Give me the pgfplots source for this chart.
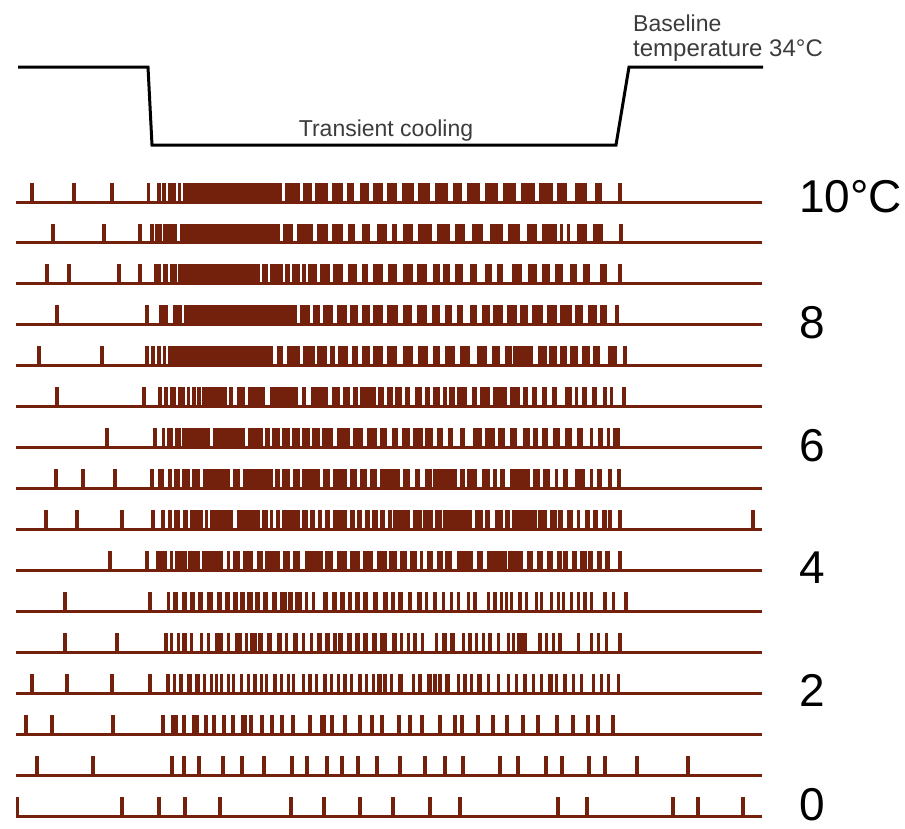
\documentclass[border=0pt]{standalone}
\usepackage{pgfplots}
\pgfplotsset{compat=1.18}
\usepackage{fontspec}
\setmainfont{Liberation Sans}
\definecolor{spkc}{RGB}{115,32,12}
\definecolor{txt}{RGB}{60,60,60}
\pgfplotsset{spk/.style={only marks, mark size=0pt, mark options={draw=none, fill=none},
  error bars/x dir=both, error bars/x explicit, error bars/error mark=none,
  error bars/error bar style={line width=19pt, draw=spkc, line cap=butt}}}
\newcommand{\spikerow}[2]{\addplot[spk] table[header=false, row sep=\\,
  x expr={(\thisrowno{0}+max(\thisrowno{0},\thisrowno{1}))/2},
  x error expr={max((max(\thisrowno{0},\thisrowno{1})-\thisrowno{0})/2+0.4,1.7)},
  y expr=#1-9.5] {#2};}
\begin{document}
\begin{tikzpicture}
\path[use as bounding box] (0,0) rectangle (905pt,828pt);
\begin{axis}[at={(0,0)}, anchor=south west, scale only axis, width=905pt, height=828pt,
  xmin=0, xmax=905, ymin=0, ymax=828, y dir=reverse, hide axis, clip=false]
% temperature trace
\addplot[black, line width=3pt, line join=miter] coordinates {(18,67)(148,67)(152,145)(616,145)(629,67)(763,67)};
% baselines
\addplot[only marks, mark size=0pt, mark options={draw=none, fill=none}, error bars/x dir=both, error bars/x explicit, error bars/error mark=none,
  error bars/error bar style={line width=3pt, draw=spkc}]
  table[header=false, row sep=\\, x expr=389, x error expr=373, y index=0] {
202\\242.5\\283\\324\\365\\406\\447\\488\\529\\570\\611\\652\\693\\734\\775\\816\\};
% row 1
\spikerow{202}{32 0\\74 0\\112 0\\148.5 0\\159 0\\162 166\\168 176\\178 181\\183 282\\285 300\\303 312\\315 328\\332 343\\347 354\\360 369\\373 383\\387 397\\402 414\\418 430\\435 448\\453 462\\467 480\\485 498\\503 516\\521 535\\539 553\\557 567\\575 587\\595 602\\620 0\\}
% row 2
\spikerow{242.5}{53 0\\104 0\\140 0\\152 0\\157 0\\160 0\\163 177\\180 280\\283 293\\297 313\\317 328\\332 343\\348 355\\362 370\\377 387\\392 397\\403 413\\418 432\\437 450\\455 465\\472 483\\490 503\\508 520\\527 537\\542 557\\560 563\\567 570\\577 587\\593 603\\621 0\\}
% row 3
\spikerow{283}{47 0\\69 0\\119 0\\140 0\\156 0\\159 0\\163 168\\170 177\\178 260\\262 268\\270 283\\285 290\\292 300\\302 306\\308 317\\320 330\\333 343\\348 357\\362 368\\373 383\\388 397\\403 413\\417 427\\433 440\\443 450\\455 463\\470 477\\485 492\\497 503\\512 522\\528 537\\542 550\\555 563\\570 577\\583 590\\600 607\\620 0\\}
% row 4
\spikerow{324}{57 0\\147 0\\159 168\\173 182\\184 297\\300 310\\313 320\\323 333\\337 347\\350 358\\362 370\\373 383\\387 398\\403 412\\417 427\\432 440\\445 452\\457 463\\470 477\\482 490\\493 503\\507 517\\520 528\\532 543\\547 557\\560 572\\575 583\\588 597\\600 607\\617 0\\}
% row 5
\spikerow{365}{39 0\\102 0\\147 0\\153 0\\159 0\\163 166\\168 273\\277 283\\287 300\\303 315\\317 327\\330 335\\338 348\\352 358\\362 370\\373 383\\387 397\\403 413\\418 428\\433 440\\445 455\\460 470\\477 487\\492 500\\505 512\\513 533\\538 547\\549 557\\560 567\\570 578\\582 590\\593 600\\608 617\\625 0\\}
% row 6
\spikerow{406}{57 0\\144 0\\158 162\\164 168\\170 176\\178 185\\187 190\\192 196\\198 200\\202 227\\229 233\\237 245\\248 265\\270 298\\302 306\\311 328\\332 340\\343 350\\353 358\\360 376\\378 384\\387 393\\395 402\\405 410\\415 422\\425 430\\433 440\\443 447\\449 455\\457 467\\472 477\\480 490\\493 507\\510 520\\523 528\\532 537\\542 547\\552 557\\565 572\\575 578\\582 587\\592 597\\603 607\\610 613\\624 0\\}
% row 7
\spikerow{447}{107 0\\153 157\\162 165\\167 173\\175 181\\182 210\\213 245\\248 263\\265 270\\272 280\\282 290\\292 300\\302 310\\312 320\\322 333\\337 350\\353 363\\367 377\\380 387\\392 398\\402 410\\413 423\\425 433\\437 443\\448 453\\460 465\\473 482\\485 495\\498 505\\510 517\\523 530\\533 538\\542 548\\553 560\\565 572\\577 583\\590 593\\598 603\\607 610\\613 620\\}
% row 8
\spikerow{488}{56 0\\83 0\\115 0\\152 0\\160 0\\162.5 0\\168 172\\174 180\\182 190\\192 200\\203 230\\233 240\\243 273\\275 280\\282 290\\293 300\\302 320\\323 330\\333 347\\350 357\\360 367\\370 377\\380 400\\403 410\\415 420\\425 432\\433 457\\460 465\\467 477\\482 490\\493 497\\500 505\\510 530\\533 540\\543 550\\555 558\\563 568\\575 585\\590 593\\597 602\\608 612\\619 0\\}
% row 9
\spikerow{529}{46 0\\77 0\\122 0\\153 0\\163 0\\168 172\\174 180\\183 188\\190 203\\205 208\\210 233\\237 260\\262 268\\270 273\\276 280\\282 300\\302 308\\310 315\\318 322\\325 330\\333 347\\350 355\\357 362\\365 370\\372 378\\380 385\\388 392\\393 410\\413 422\\423 433\\435 442\\443 472\\475 483\\485 490\\495 503\\505 510\\512 537\\538 547\\550 557\\558 563\\567 573\\577 580\\585 590\\593 598\\602 607\\608 612\\620 0\\753 0\\}
% row 10
\spikerow{570}{110 0\\147 0\\158 0\\161 0\\163 167\\170 173\\175 187\\188 200\\202 223\\227 230\\233 240\\243 253\\257 263\\265 280\\283 290\\293 300\\305 323\\325 333\\337 347\\350 360\\363 373\\377 387\\389 397\\400 407\\410 417\\420 423\\427 433\\437 443\\445 452\\457 473\\477 483\\487 507\\508 523\\527 533\\537 543\\547 553\\557 562\\563 568\\572 577\\580 587\\588 593\\597 602\\605 610\\620 0\\}
% row 11
\spikerow{611}{65 0\\150 0\\167 170\\173 178\\182 187\\190 195\\198 203\\207 213\\217 222\\225 230\\233 238\\240 245\\247 253\\255 260\\263 268\\272 277\\280 287\\288 293\\295 302\\305 308\\312 315\\323 328\\332 337\\340 345\\348 352\\355 360\\363 368\\373 378\\383 388\\391 395\\398 403\\408 412\\417 422\\425 428\\433 437\\442 445\\450 453\\457 460\\467 470\\473 477\\487 490\\493 497\\500 503\\505 508\\510 513\\518 522\\525 528\\535 538\\540 543\\550 553\\557 560\\562 565\\570 573\\577 580\\583 587\\590 593\\603 607\\612 615\\625 627\\}
% row 12
\spikerow{652}{65 0\\117 0\\165 167\\170 173\\177 180\\182 187\\190 193\\200 203\\207 210\\215 223\\227 230\\235 242\\245 248\\250 257\\258 263\\267 272\\277 282\\285 288\\293 298\\302 305\\310 313\\317 322\\325 330\\333 337\\338 343\\347 352\\355 360\\363 368\\372 377\\380 387\\392 397\\400 403\\407 410\\413 417\\422 423\\435 438\\442 447\\450 455\\462 465\\468 472\\475 478\\482 485\\488 492\\497 500\\507 510\\512 515\\517 527\\538 542\\545 548\\552 555\\558 562\\577 580\\590 593\\597 600\\605 608\\618 622\\}
% row 13
\spikerow{693}{32 0\\67 0\\112 0\\150 0\\167 169\\173 176\\180 182\\187 192\\195 200\\203 206\\210 213\\215 218\\220 223\\227 230\\232 235\\240 243\\247 250\\253 257\\260 263\\265 268\\273 277\\280 283\\287 290\\292 295\\302 305\\308 312\\315 318\\323 327\\330 333\\337 340\\343 347\\350 353\\358 362\\365 368\\372 375\\377 382\\383 387\\390 393\\398 403\\412 415\\418 422\\427 432\\433 437\\438 442\\445 450\\457 460\\463 467\\470 473\\477 482\\487 490\\497 500\\507 510\\515 518\\523 527\\532 535\\540 543\\548 553\\555 558\\563 567\\572 575\\580 583\\592 595\\600 603\\607 610\\617 620\\}
% row 14
\spikerow{734}{26 0\\52 0\\113 0\\163 0\\173 0\\176 0\\184 0\\194 0\\197 0\\206 0\\214 0\\224 0\\233 0\\243 0\\245 0\\251 0\\262 0\\272 0\\282 0\\293 0\\310 0\\322 0\\324 0\\332 0\\345 0\\360 0\\372 0\\382 0\\399 0\\410 0\\422 0\\440 0\\455 0\\462 0\\478 0\\493 0\\507 0\\523 0\\538 0\\557 0\\573 0\\588 0\\598 0\\613 0\\}
% row 15
\spikerow{775}{37 0\\93 0\\172 0\\184 0\\199 0\\223 0\\242 0\\264 0\\292 0\\307 0\\327 0\\342 0\\358 0\\377 0\\400 0\\425 0\\445 0\\463 0\\500 0\\518 0\\546 0\\562 0\\589 0\\605 0\\637 0\\688 0\\}
% row 16
\spikerow{816}{17.5 0\\122 0\\159 0\\185 0\\220 0\\291 0\\324 0\\360 0\\393 0\\430 0\\460 0\\558 0\\587 0\\673 0\\698 0\\743 0\\}
% texts
\node[anchor=base west, inner sep=0pt, text=txt, font=\fontsize{23}{26}\selectfont] at (axis cs:633,31) {Baseline};
\node[anchor=base west, inner sep=0pt, text=txt, font=\fontsize{24}{26}\selectfont] at (axis cs:633,56) {temperature 34°C};
\node[anchor=base, inner sep=0pt, text=txt, font=\fontsize{23}{26}\selectfont] at (axis cs:386,136) {Transient cooling};
\node[anchor=base west, inner sep=0pt, font=\fontsize{46}{50}\selectfont] at (axis cs:799,212) {10°C};
\node[anchor=base west, inner sep=0pt, font=\fontsize{46}{50}\selectfont] at (axis cs:799,338) {8};
\node[anchor=base west, inner sep=0pt, font=\fontsize{46}{50}\selectfont] at (axis cs:799,461) {6};
\node[anchor=base west, inner sep=0pt, font=\fontsize{46}{50}\selectfont] at (axis cs:799,583) {4};
\node[anchor=base west, inner sep=0pt, font=\fontsize{46}{50}\selectfont] at (axis cs:799,706) {2};
\node[anchor=base west, inner sep=0pt, font=\fontsize{46}{50}\selectfont] at (axis cs:799,820) {0};
\end{axis}
\end{tikzpicture}
\end{document}
